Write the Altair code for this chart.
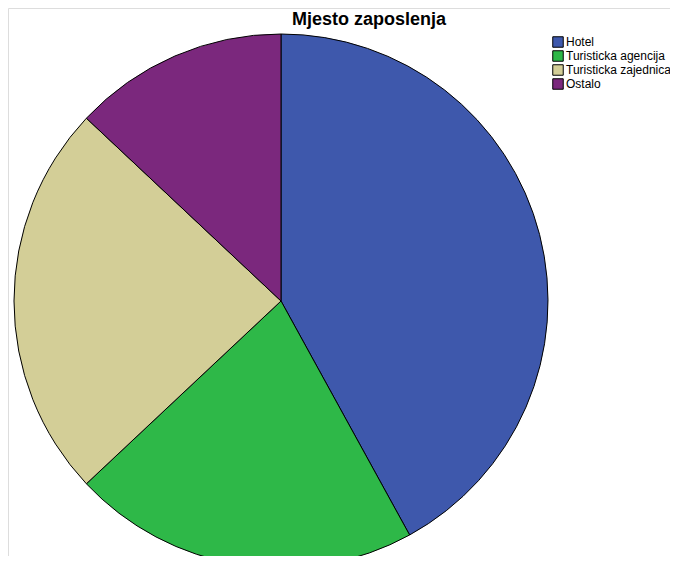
import altair as alt
import pandas as pd

categories = ["Hotel", "Turisticka agencija", "Turisticka zajednica", "Ostalo"]
counts = [42, 21, 24, 13]
colors = ["#3E58AC", "#2EB848", "#D3CE97", "#7B287D"]

df = pd.DataFrame({"cat": categories, "n": counts, "order": list(range(len(categories)))})

pie = alt.Chart(df).mark_arc(stroke="black", strokeWidth=1).encode(
    theta=alt.Theta("n:Q", stack=True),
    order=alt.Order("order:Q"),
    color=alt.Color(
        "cat:N",
        scale=alt.Scale(domain=categories, range=colors),
        sort=categories,
        legend=alt.Legend(
            title=None,
            orient="none",
            legendX=544,
            legendY=28,
            symbolType="square",
            symbolSize=110,
            symbolStrokeColor="black",
            symbolStrokeWidth=1,
            labelFont="Liberation Sans",
            labelFontSize=12,
            labelColor="black",
            labelLimit=200,
            rowPadding=-3,
            labelOffset=2,
            padding=0,
        ),
    ),
    x=alt.value(273),
    y=alt.value(293),
    radius=alt.value(267),
)

title_df = pd.DataFrame({"t": ["Mjesto zaposlenja"]})
title = alt.Chart(title_df).mark_text(
    font="Liberation Sans", fontSize=18, fontWeight="bold", color="black", baseline="middle", align="center"
).encode(text="t:N", x=alt.value(361), y=alt.value(12))

chart = alt.layer(pie, title).properties(
    width=662, height=548, padding=0, autosize=alt.AutoSizeParams(type="none")
).configure_view(strokeWidth=0, stroke="transparent").configure(background="white")

chart.save("out.html", embed_options={"renderer": "svg", "actions": False})
